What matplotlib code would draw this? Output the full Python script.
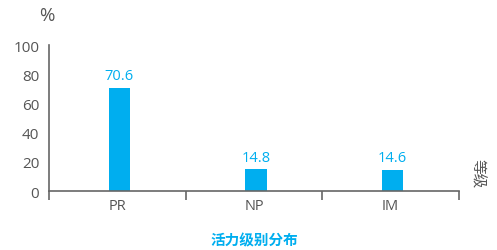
import matplotlib
matplotlib.use("Agg")
import matplotlib.pyplot as plt

categories = ["PR", "NP", "IM"]
values = [70.6, 14.8, 14.6]
yticks = [0, 20, 40, 60, 80, 100]
title = "活力级别分布"
xlabel = "等级"
ylabel = "%"

plt.rcParams['font.family'] = ['Open Sans', 'Noto Sans CJK SC', 'DejaVu Sans']

blue = "#00AEEF"
gray = "#555555"
axis_gray = "#666666"

fig = plt.figure(figsize=(4.97, 2.51), dpi=100)
ax = fig.add_axes([0.0986, 0.235, 0.8249, 0.5817])

pos = [i + 0.5 for i in range(len(categories))]
ax.bar([p + 0.015 for p in pos], values, width=0.155, color=blue, zorder=2)
for x, v in zip(pos, values):
    ax.annotate(f"{v}", (x + 0.015, v), xytext=(0, 3.5), textcoords="offset points",
                ha="center", va="bottom", color=blue, fontsize=10.5)

ax.set_xlim(0, 3)
ax.set_ylim(0, 100)
ax.set_yticks(yticks)
ax.set_yticklabels([str(t) for t in yticks])
ax.tick_params(axis="y", length=0, pad=7, labelsize=11, labelcolor=gray)

ax.set_xticks([0, 1, 2, 3])
ax.set_xticklabels([])
ax.tick_params(axis="x", which="major", length=6.5, width=1.2, color=axis_gray, direction="out")
ax.set_xticks(pos, minor=True)
ax.set_xticklabels(categories, minor=True)
ax.tick_params(axis="x", which="minor", length=0, pad=5, labelsize=10.5, labelcolor=gray)

for s in ["top", "right"]:
    ax.spines[s].set_visible(False)
for s in ["left", "bottom"]:
    ax.spines[s].set_color(axis_gray)
    ax.spines[s].set_linewidth(1.2)

fig.text(47 / 497, 1 - 16.5 / 251, ylabel, ha="center", va="center", fontsize=13.5, color=gray)
fig.text(477 / 497, 1 - 174 / 251, xlabel, ha="center", va="center", fontsize=10.5,
         color=gray, rotation=-90, rotation_mode="anchor", family='Noto Sans CJK SC')
fig.text(254.5 / 497, 1 - 240 / 251, title, ha="center", va="center", fontsize=10.5,
         color=blue, fontweight="bold", family='Noto Sans CJK SC')

fig.savefig("out.png", dpi=100)
